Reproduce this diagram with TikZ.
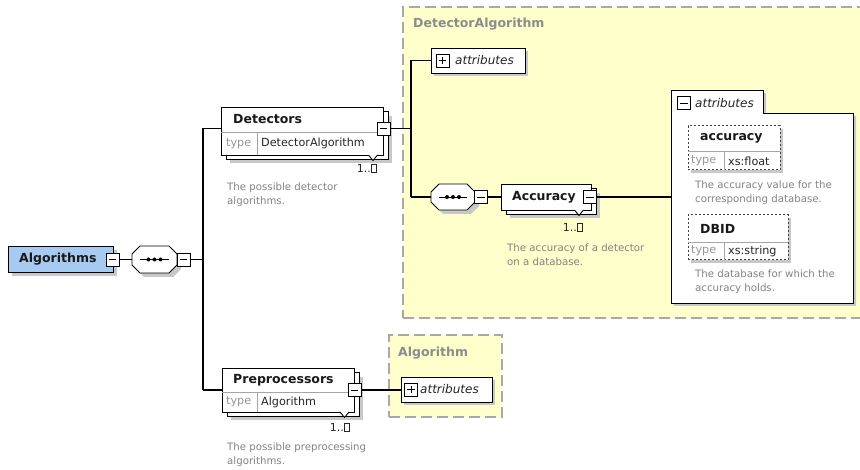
\documentclass[tikz,border=0pt]{standalone}
\usepackage{fontspec}
\setmainfont{DejaVu Sans}
\usetikzlibrary{fit}
\definecolor{algblue}{RGB}{166,202,240}
\definecolor{ylw}{RGB}{255,255,204}
\definecolor{dashg}{RGB}{168,168,168}
\definecolor{shadowc}{RGB}{200,200,200}
\definecolor{descg}{RGB}{130,130,130}
\definecolor{typeg}{RGB}{150,150,150}
\definecolor{divg}{RGB}{165,165,165}
\definecolor{lblg}{RGB}{140,140,140}
\newcommand\octpath[4]{({#1+8},#2) -- ({#3-8},#2) -- (#3,{#2+8}) -- (#3,{#4-8}) -- ({#3-8},#4) -- ({#1+8},#4) -- (#1,{#4-8}) -- (#1,{#2+8}) -- cycle}
\newcommand\seqnode[5]{%
 \fill[shadowc, shift={(4,4)}] \octpath{#2}{#3}{#4}{#5};
 \draw[elem] \octpath{#2}{#3}{#4}{#5};
 \node[inner sep=0pt, fit={(#2,#3)(#4,#5)}] (#1) {};
 \draw[line width=0.9pt] ([xshift=8pt]#1.west) -- ([xshift=-8pt]#1.east);
 \foreach \d in {-6,0,6} \fill ([xshift=\d pt]#1.center) circle (2);
}
\newcommand\minusicon[3]{\node[icon] (#1) at (#2,#3) {};
 \draw[line width=0.9pt] ([xshift=3pt]#1.west) -- ([xshift=-3pt]#1.east);}
\newcommand\plusicon[3]{\minusicon{#1}{#2}{#3}%
 \draw[line width=0.9pt] ([yshift=3pt]#1.south) -- ([yshift=-3pt]#1.north);}
% name x1 y1 x2 y2
\newcommand\stackel[5]{%
 \fill[shadowc] ({#2+9},{#3+9}) rectangle ({#4+9},{#5+8});
 \draw[elem] ({#2+5},{#3+4}) rectangle ({#4+5},{#5+4});
 \node[elem, fit={(#2,#3)(#4,#5)}] (#1) {};
}
\newcommand\notch[2]{\draw[elem] ({#1-4.5},#2) -- (#1,{#2+5.5}) -- ({#1+4.5},#2);}
\newcommand\infbox{{\setlength\fboxsep{0pt}\setlength\fboxrule{0.7pt}\fbox{\rule{0pt}{8pt}\hspace{4.5pt}}}}
\begin{document}
\begin{tikzpicture}[x=1pt,y=-1pt,
 elem/.style={draw=black, line width=0.9pt, fill=white, inner sep=0pt},
 attel/.style={draw=black!75, line width=1pt, dash pattern=on 2.2pt off 1.8pt, fill=white, inner sep=0pt},
 grp/.style={draw=dashg, fill=ylw, line width=1.6pt, dash pattern=on 11pt off 5pt, inner sep=0pt},
 conn/.style={draw=black, line width=1.1pt},
 icon/.style={draw=black, fill=white, line width=0.9pt, minimum width=13pt, minimum height=13pt, inner sep=0pt},
 ttl/.style={font=\fontsize{12.5}{14}\selectfont\bfseries, text=black!90, inner sep=0pt, anchor=west},
 tlbl/.style={font=\fontsize{11.2}{13}\selectfont, text=typeg, inner sep=0pt, anchor=west},
 tval/.style={font=\fontsize{11.2}{13}\selectfont, text=black!85, inner sep=0pt, anchor=west},
 desc/.style={font=\fontsize{10.2}{14}\selectfont, text=descg, inner sep=0pt, anchor=west, align=left},
 attrt/.style={font=\fontsize{12}{14}\selectfont\itshape, text=black!85, inner sep=0pt, anchor=west},
 occ/.style={font=\fontsize{11}{13}\selectfont, text=black!85, inner sep=0pt, anchor=east},
 glbl/.style={font=\fontsize{12.5}{14}\selectfont\bfseries, text=lblg, inner sep=0pt, anchor=west},
 div/.style={draw=divg, line width=0.8pt},
]
\useasboundingbox (0,0) rectangle (860,470);
\fill[white] (0,0) rectangle (860,470);

% group backgrounds
\node[grp, fit={(403,7)(864,318)}] (dag) {};
\node[glbl] (dagl) at (413,24) {DetectorAlgorithm};
\node[grp, fit={(389,335)(502,417)}] (ag) {};
\node[glbl] (agl) at (398,353) {Algorithm};

% Algorithms
\fill[shadowc] (12,250) rectangle (117,276);
\node[elem, fill=algblue, fit={(8,246)(113,272)}] (alg) {};
\node[ttl] (algt) at (19,259.5) {Algorithms};
\minusicon{algm}{112.5}{259.5}

% sequence 1
\seqnode{seq1}{132}{246}{177}{273}
\minusicon{s1m}{183.5}{259.5}
\coordinate (v1) at (203,259.5);
\coordinate (v1t) at (203,128.5);
\coordinate (v1b) at (203,390);

% Detectors
\stackel{det}{221}{107}{383}{155}
\draw[div] (221,132) -- (383,132);
\draw[div] (257,132) -- (257,155);
\node[ttl] (dett) at (233,119.5) {Detectors};
\node[tlbl] (detl) at (226,143.5) {type};
\node[tval] (detv) at (261,143.5) {DetectorAlgorithm};
\minusicon{detm}{383.5}{128.5}
\notch{373}{155}
\node[occ] (deto) at (377,168.5) {1..\infbox};
\node[desc] (detd) at (227,194.5) {The possible detector\\algorithms.};

% Preprocessors
\stackel{pre}{222}{368}{354}{412}
\draw[div] (222,392) -- (354,392);
\draw[div] (257,392) -- (257,412);
\node[ttl] (pret) at (233,380) {Preprocessors};
\node[tlbl] (prel) at (226,402) {type};
\node[tval] (prev) at (261,402) {Algorithm};
\minusicon{prem}{354.5}{390}
\notch{344.5}{412}
\node[occ] (preo) at (350,427.5) {1..\infbox};
\node[desc] (pred) at (227,454.5) {The possible preprocessing\\algorithms.};

% Algorithm attributes (collapsed)
\fill[shadowc] (404,380) rectangle (495,405);
\node[elem, fit={(401,377)(492,402)}] (aattr) {};
\plusicon{aattrp}{411}{389.5}
\node[attrt] (aattrt) at (420,389.5) {attributes};

% DetectorAlgorithm attributes (collapsed)
\fill[shadowc] (434,51) rectangle (528,76);
\node[elem, fit={(431,48)(525,73)}] (dattr) {};
\plusicon{dattrp}{442.5}{60.5}
\node[attrt] (dattrt) at (455,60.5) {attributes};
\coordinate (v2t) at (411,60.5);
\coordinate (v2m) at (411,128.5);
\coordinate (v2b) at (411,197);

% sequence 2
\seqnode{seq2}{431}{184}{475}{210}
\minusicon{s2m}{481}{197}

% Accuracy
\stackel{acc}{501}{184}{591}{210}
\node[ttl] (acct) at (512,197) {Accuracy};
\minusicon{accm}{590}{197}
\notch{579}{210}
\node[occ] (acco) at (583,227.5) {1..\infbox};
\node[desc] (accd) at (507,254.5) {The accuracy of a detector\\on a database.};

% attributes (expanded)
\fill[shadowc, shift={(3,3)}] (671,90) -- (763,90) -- (763,113) -- (853,113) -- (853,303) -- (671,303) -- cycle;
\draw[elem] (671,90) -- (763,90) -- (763,113) -- (853,113) -- (853,303) -- (671,303) -- cycle;
\node[inner sep=0pt, fit={(671,90)(853,303)}] (attrs) {};
\minusicon{attrsm}{684}{103}
\node[attrt] (attrst) at (695,103) {attributes};

% accuracy attribute
\fill[shadowc] (691,129) rectangle (783,173);
\node[attel, fit={(688,126)(780,170)}] (aacc) {};
\draw[div] (688,151) -- (780,151);
\draw[div] (724,151) -- (724,170);
\node[ttl] (aacct) at (700,138.5) {accuracy};
\node[tlbl] (aaccl) at (691,161) {type};
\node[tval] (aaccv) at (728,161) {xs:float};
\node[desc] (aaccd) at (695,192.5) {The accuracy value for the\\corresponding database.};

% DBID attribute
\fill[shadowc] (691,218) rectangle (791,263);
\node[attel, fit={(688,215)(788,260)}] (dbid) {};
\draw[div] (688,242) -- (788,242);
\draw[div] (724,242) -- (724,260);
\node[ttl] (dbidt) at (700,228.5) {DBID};
\node[tlbl] (dbidl) at (691,251) {type};
\node[tval] (dbidv) at (728,251) {xs:string};
\node[desc] (dbidd) at (695,281.5) {The database for which the\\accuracy holds.};

% connectors
\draw[conn] (algm.east) -- (seq1.west);
\draw[conn] (s1m.east) -- (v1);
\draw[conn] (v1t) -- (v1b);
\draw[conn] (v1t) -- (v1t -| det.west);
\draw[conn] (v1b) -- (v1b -| pre.west);
\draw[conn] (detm.east) -- (v2m);
\draw[conn] (v2t) -- (v2b);
\draw[conn] (v2t) -- (dattr.west |- v2t);
\draw[conn] (v2b) -- (seq2.west |- v2b);
\draw[conn] (s2m.east) -- (acc.west |- s2m);
\draw[conn] (accm.east) -- (attrs.west |- accm);
\draw[conn] (prem.east) -- (aattr.west |- prem);
\end{tikzpicture}
\end{document}
